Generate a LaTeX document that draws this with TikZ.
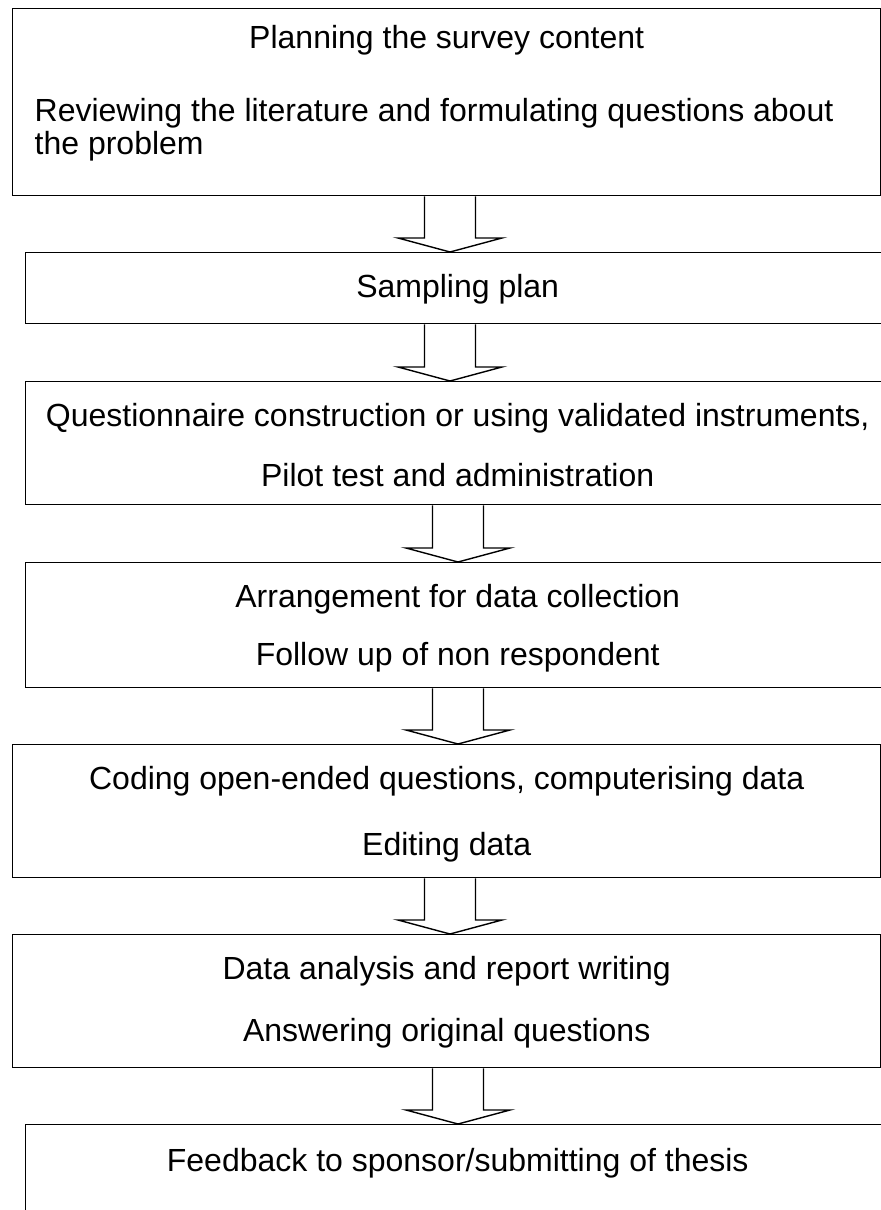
\documentclass[tikz,border=0pt]{standalone}
\usepackage{fontspec}
\setmainfont{Liberation Sans}
\usetikzlibrary{calc}
\tikzstyle{stepbox} = [draw,line width=0.7pt,inner sep=0pt,anchor=north west,font=\fontsize{16}{16.5}\selectfont]
\tikzstyle{blockarrow} = [draw,line width=0.7pt,fill=white,line join=miter]

\begin{document}
\begin{tikzpicture}[x=0.5pt,y=-0.5pt]

  \useasboundingbox (0,0) rectangle (881,1210);
  \clip (0,0) rectangle (881,1210);

  \def\sw{12.75pt};
  \def\hw{26pt};
  \def\hl{7pt};

  \coordinate (midA) at (450,0);
  \coordinate (midB) at (458,0);

  \node[stepbox] (b1) at (12,8) {\parbox[t][93.5pt][t]{434pt}{\vspace*{8.5pt}\centering Planning the survey content\par
      \vspace{20pt}\raggedright\leftskip=11pt Reviewing the literature and formulating questions about\\the problem}};

  \node[stepbox] (b2) at (25,252) {\parbox[t][35.5pt][t]{432pt}{\vspace*{11pt}\centering Sampling plan}};

  \node[stepbox] (b3) at (25,381) {\parbox[t][61.5pt][t]{432pt}{\vspace*{11pt}\centering
      Questionnaire construction or using validated instruments,\\[13.5pt]Pilot test and administration}};

  \node[stepbox] (b4) at (25,562) {\parbox[t][62.5pt][t]{432pt}{\vspace*{11pt}\centering
      Arrangement for data collection\\[12.5pt]Follow up of non respondent}};

  \node[stepbox] (b5) at (12,744) {\parbox[t][66.5pt][t]{434pt}{\vspace*{11pt}\centering
      Coding open-ended questions, computerising data\\[16.5pt]Editing data}};

  \node[stepbox] (b6) at (12,934) {\parbox[t][66.5pt][t]{434pt}{\vspace*{11pt}\centering
      Data analysis and report writing\\[14.5pt]Answering original questions}};

  \node[stepbox] (b7) at (25,1124) {\parbox[t][60pt][t]{432pt}{\vspace*{12pt}\centering
      Feedback to sponsor/submitting of thesis}};

  % block arrows between the steps
  \foreach \src/\dst/\ax in {b1/b2/midA, b2/b3/midA, b3/b4/midB, b4/b5/midB, b5/b6/midA, b6/b7/midB}
    \draw[blockarrow] let \p1=(\src.south -| \ax), \p2=(\dst.north -| \ax) in
      (\x1-\sw,\y1) -- (\x1-\sw,\y2+\hl) -- (\x1-\hw,\y2+\hl) -- (\x2,\y2)
      -- (\x1+\hw,\y2+\hl) -- (\x1+\sw,\y2+\hl) -- (\x1+\sw,\y1);

\end{tikzpicture}
\end{document}
